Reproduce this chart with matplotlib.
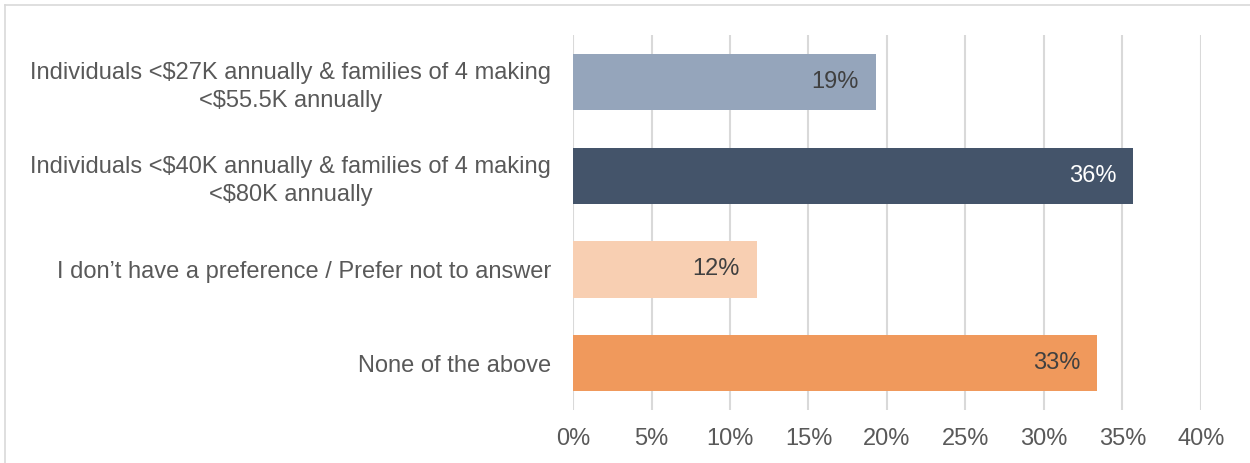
import matplotlib.pyplot as plt
from matplotlib.lines import Line2D

categories = [
    "Individuals <$27K annually & families of 4 making\n<$55.5K annually",
    "Individuals <$40K annually & families of 4 making\n<$80K annually",
    "I don\u2019t have a preference / Prefer not to answer",
    "None of the above",
]
values = [0.193, 0.357, 0.117, 0.334]
bar_colors = ["#95A5BB", "#44546A", "#F8CFB2", "#F0995C"]
label_colors = ["#404040", "#FFFFFF", "#404040", "#404040"]
ticks = [0.0, 0.05, 0.10, 0.15, 0.20, 0.25, 0.30, 0.35, 0.40]
tick_labels = ["0%", "5%", "10%", "15%", "20%", "25%", "30%", "35%", "40%"]

plt.rcParams['font.family'] = ['Liberation Sans', 'DejaVu Sans']

fig = plt.figure(figsize=(12.5, 4.63), dpi=100)
ax = fig.add_axes([573 / 1250, 1 - 410 / 463, 628 / 1250, 375 / 463])

y = list(range(len(categories)))
ax.barh(y, values, height=0.6, color=bar_colors, zorder=3)

for yi, v, c in zip(y, values, label_colors):
    ax.annotate(f"{v * 100:.0f}%", (v, yi), xytext=(-17, 0),
                textcoords='offset pixels', ha='right', va='center',
                fontsize=17, color=c, zorder=4)

ax.set_xlim(0, 0.40)
ax.set_ylim(3.5, -0.5)
ax.set_xticks(ticks)
ax.set_xticklabels(tick_labels)
ax.set_yticks(y)
ax.set_yticklabels(categories)
for lbl in ax.get_yticklabels():
    lbl.set_multialignment('center')
    lbl.set_linespacing(1.35)

ax.tick_params(axis='both', length=0, labelsize=17, labelcolor='#595959')
ax.tick_params(axis='y', pad=16)
ax.tick_params(axis='x', pad=13)
ax.grid(axis='x', color='#D9D9D9', linewidth=1.5, zorder=0)
for s in ax.spines.values():
    s.set_visible(False)

# outer chart frame (top and left edges visible in the crop)
fig.add_artist(Line2D([5 / 1250, 1.0], [1 - 5 / 463, 1 - 5 / 463],
                      color='#D9D9D9', linewidth=1.2, transform=fig.transFigure))
fig.add_artist(Line2D([5 / 1250, 5 / 1250], [0.0, 1 - 5 / 463],
                      color='#D9D9D9', linewidth=1.2, transform=fig.transFigure))

fig.savefig("out.png", dpi=100)
